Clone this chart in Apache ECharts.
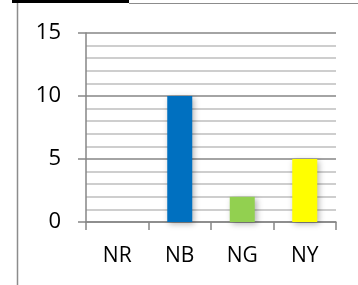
<!DOCTYPE html>
<html>
<head>
<meta charset="utf-8">
<script src="https://cdn.jsdelivr.net/npm/echarts@6/dist/echarts.min.js"></script>
<style>
  html, body { margin: 0; padding: 0; background: #fff; }
  #chart { width: 358px; height: 285px; }
</style>
</head>
<body>
<div id="chart"></div>
<script>
// data
const categories = ['NR', 'NB', 'NG', 'NY'];
const values = [0, 10, 2, 5];
const barColors = ['#7F7F7F', '#0070C0', '#92D050', '#FFFF00'];
const yTicks = [0, 5, 10, 15];

const chart = echarts.init(document.getElementById('chart'));

chart.setOption({
  animation: false,
  grid: { left: 86, top: 33, right: 22, bottom: 63 },
  // frame around the chart (black tab + gray border)
  graphic: [
    { type: 'rect', shape: { x: 12, y: 0, width: 117, height: 3 }, style: { fill: '#000' } },
    { type: 'line', shape: { x1: 129, y1: 3.5, x2: 358, y2: 3.5 }, style: { stroke: '#8c8c8c', lineWidth: 1 } },
    { type: 'line', shape: { x1: 17.5, y1: 3, x2: 17.5, y2: 285 }, style: { stroke: '#8c8c8c', lineWidth: 1.5 } }
  ],
  xAxis: {
    type: 'category',
    data: categories,
    axisLine: { lineStyle: { color: '#868686', width: 1.5 } },
    axisTick: { show: true, alignWithLabel: false, length: 8, lineStyle: { color: '#868686', width: 1.5 } },
    axisLabel: { color: '#000', fontSize: 21, fontFamily: 'Open Sans', margin: 24 }
  },
  yAxis: {
    type: 'value',
    min: yTicks[0],
    max: yTicks[yTicks.length - 1],
    interval: 5,
    axisLine: { show: true, lineStyle: { color: '#868686', width: 1.5 } },
    axisTick: { show: true, length: 8, lineStyle: { color: '#868686', width: 1.5 } },
    axisLabel: { color: '#000', fontSize: 22, fontFamily: 'Open Sans', margin: 25 },
    splitLine: { show: true, lineStyle: { color: '#868686', width: 1.5 } },
    minorTick: { show: false, splitNumber: 5 },
    minorSplitLine: { show: true, lineStyle: { color: '#BFBFBF', width: 1.5 } }
  },
  series: [{
    type: 'bar',
    barWidth: 25,
    data: values.map((v, i) => ({
      value: v,
      itemStyle: { color: barColors[i] }
    })),
    itemStyle: {
      shadowBlur: 6,
      shadowColor: 'rgba(0,0,0,0.3)',
      shadowOffsetX: 2,
      shadowOffsetY: 2
    }
  }]
});
</script>
</body>
</html>
